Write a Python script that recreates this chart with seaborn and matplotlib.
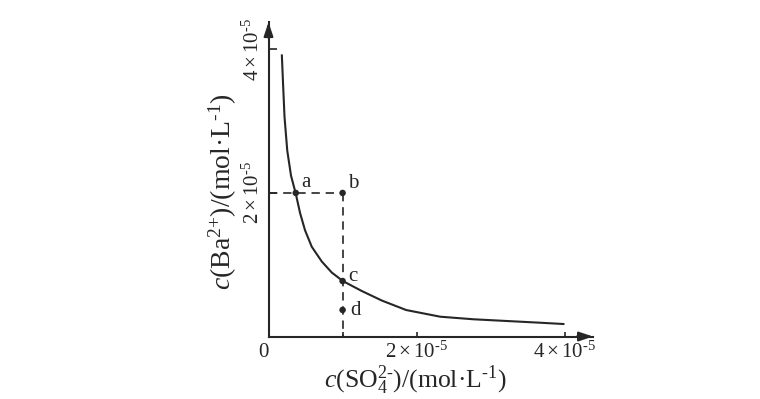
import matplotlib
matplotlib.use('Agg')
import matplotlib.pyplot as plt
import pandas as pd
import seaborn as sns

# concentrations in units of 1e-5 mol/L
curve_so4 = [0.18, 0.196, 0.216, 0.253, 0.304, 0.368, 0.426, 0.493, 0.584,
             0.719, 0.854, 1.003, 1.259, 1.530, 1.858, 2.318, 2.768, 3.219,
             3.669, 3.984]
curve_ba = [3.92, 3.53, 3.06, 2.59, 2.24, 1.99, 1.72, 1.48, 1.25,
            1.045, 0.891, 0.773, 0.634, 0.501, 0.369, 0.276, 0.240, 0.216,
            0.192, 0.174]

point_labels = ['a', 'b', 'c', 'd']
point_so4 = [0.368, 1.00, 1.00, 1.00]
point_ba = [2.00, 2.00, 0.773, 0.37]

xtick_vals = [1, 2, 4]
xtick_labels = ['', r'$2\times10^{\text{-5}}$', r'$4\times10^{\text{-5}}$']
ytick_vals = [2, 4]
ytick_labels = [r'$2\times10^{\text{-5}}$', r'$4\times10^{\text{-5}}$']
xlabel = r'$c\mathrm{(SO_4^{\text{2-}})/(mol·L^{\text{-1}})}$'
ylabel = r'$c\mathrm{(Ba^{\text{2+}})/(mol·L^{\text{-1}})}$'

sns.set_theme(style='ticks')
plt.rcParams.update({
    'font.family': ['Liberation Serif', 'DejaVu Serif'],
    'mathtext.fontset': 'custom',
    'mathtext.rm': 'Liberation Serif',
    'mathtext.it': 'Liberation Serif:italic',
    'mathtext.bf': 'Liberation Serif:bold',
})

ink = '#262626'
fig = plt.figure(figsize=(7.6, 3.99), dpi=100)
ax = fig.add_axes([0.3533, 0.1566, 0.427, 0.788])

df = pd.DataFrame({'so4': curve_so4, 'ba': curve_ba})
sns.lineplot(data=df, x='so4', y='ba', sort=False, estimator=None,
             color=ink, lw=1.5, ax=ax)

bx, by = point_so4[1], point_ba[1]
ax.plot([0, bx], [by, by], ls=(0, (5, 3.5)), color=ink, lw=1.2)
ax.plot([bx, bx], [by, 0], ls=(0, (5, 3.5)), color=ink, lw=1.2)

pts = pd.DataFrame({'x': point_so4, 'y': point_ba, 'label': point_labels})
sns.scatterplot(data=pts, x='x', y='y', color=ink, s=22, edgecolor='none',
                ax=ax, zorder=5)
offsets = {'a': (3.6, 4.3), 'b': (3.6, 3.6), 'c': (4.3, 0), 'd': (5.8, -3.6)}
for lab, x, y in zip(point_labels, point_so4, point_ba):
    ax.annotate(lab, (x, y), xytext=offsets[lab], textcoords='offset points',
                ha='left', va='baseline', fontsize=15, color=ink)

ax.set_xlim(0, 4.38)
ax.set_ylim(0, 4.38)
sns.despine(ax=ax)
for s in ['left', 'bottom']:
    ax.spines[s].set_color(ink)
    ax.spines[s].set_linewidth(1.5)

arrow = dict(arrowstyle='-|>,head_length=0.6,head_width=0.2', color=ink,
             lw=1.5, mutation_scale=14, shrinkA=0, shrinkB=0)
ax.annotate('', xy=(1.0, 0), xycoords='axes fraction', xytext=(0.95, 0),
            arrowprops=arrow, annotation_clip=False)
ax.annotate('', xy=(0, 1.0), xycoords='axes fraction', xytext=(0, 0.95),
            arrowprops=arrow, annotation_clip=False)

ax.set_xticks(xtick_vals)
ax.set_xticklabels(xtick_labels)
ax.set_yticks(ytick_vals)
ax.set_yticklabels(ytick_labels, rotation=90, va='center')
ax.tick_params(axis='x', direction='in', length=3.6, width=1.2, color=ink,
               labelsize=15, labelcolor=ink, pad=4)
ax.tick_params(axis='y', direction='in', length=5.8, width=1.2, color=ink,
               labelsize=15, labelcolor=ink, pad=3.5)
ax.set_xlabel('')
ax.set_ylabel('')

ax.text(-0.074, -0.216, '0', ha='center', va='center', fontsize=15,
        color=ink, clip_on=False)
ax.text(0.453, -0.141, xlabel, transform=ax.transAxes, ha='center',
        va='center', fontsize=18.5, color=ink)
ax.text(-0.14, 0.459, ylabel, transform=ax.transAxes, ha='center',
        va='center', rotation=90, fontsize=20, color=ink)

fig.savefig('out.png', dpi=100)
